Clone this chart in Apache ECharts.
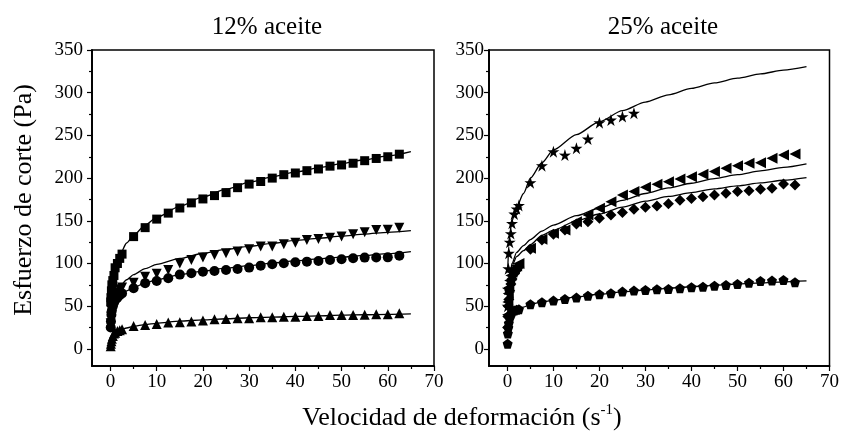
<!DOCTYPE html>
<html>
<head>
<meta charset="utf-8">
<script src="https://cdn.jsdelivr.net/npm/echarts@6/dist/echarts.min.js"></script>
<style>
  html, body { margin: 0; padding: 0; background: #fff; }
  #chart { width: 842px; height: 440px; }
</style>
</head>
<body>
<div id="chart"></div>
<script>
// shear rate (s^-1) of the measured points
const rate = [0.05, 0.1, 0.2, 0.3, 0.5, 0.75, 1, 1.5, 2, 2.5,
  5, 7.5, 10, 12.5, 15, 17.5, 20, 22.5, 25, 27.5, 30, 32.5, 35, 37.5,
  40, 42.5, 45, 47.5, 50, 52.5, 55, 57.5, 60, 62.5];
// shear rate of the fitted curves
const fitRate = [0.05, 0.3, 0.6, 1, 2, 3.5, 5, 7.5, 10, 15, 20, 25, 30, 35, 40, 45, 50, 55, 60, 65];

// 12% aceite
const square12 = [55, 60, 68, 75, 80, 86, 95, 100, 106, 111,
  131.5, 142, 152, 159, 165, 171, 175.6, 179.5, 183, 188.8, 193, 196, 200, 204,
  206, 208.7, 210.7, 214, 215.4, 217.4, 220.4, 223, 225, 228];
const downTri12 = [30, 38, 45, 50, 56, 60, 63, 66, 70, 72,
  77.6, 84.6, 88, 92.5, 100, 104, 107, 110, 112, 114, 116.7, 119.8, 120, 122.5,
  124.4, 127.6, 128.8, 130.3, 131.5, 134.3, 136.6, 139.3, 139.5, 142];
const circle12 = [25, 32, 40, 45, 50, 54, 57, 60, 63, 65,
  71, 77, 79.6, 82.7, 87, 88.6, 90.5, 91.3, 92.5, 93.6, 95.2, 97.5, 99.1, 100.3,
  101.5, 102.2, 103, 104.2, 105, 106.2, 106.9, 107, 107.2, 109.2];
const upTri12 = [3, 6, 9, 12, 15, 18, 19, 21, 22, 23,
  26.9, 28, 29.3, 30.8, 31.2, 32, 33.2, 34.7, 35, 35.8, 35.8, 37.1, 37.1, 37.8,
  37.8, 38.6, 38.6, 39.8, 39.8, 39.8, 40, 40.6, 40.6, 41.8];
const fitSquare12 = [50, 72, 82, 95, 110, 124, 133, 145, 154, 167, 178, 187, 195, 201.5, 207, 212, 217, 221.5, 226, 231];
const fitDownTri12 = [38, 52, 58, 64, 73, 81, 87, 94, 99, 106, 112, 116.5, 120, 123.5, 127, 129.5, 132, 134.5, 136.5, 138.5];
const fitCircle12 = [28, 45, 50, 55, 62, 68, 72, 77, 81, 87, 91, 94.5, 97.5, 100.5, 103, 105.5, 107.5, 109.5, 111.5, 114];
const fitUpTri12 = [8, 14, 17, 19.5, 22, 24.5, 26.5, 28.5, 30, 32.5, 34, 35.3, 36.5, 37.3, 38, 38.8, 39.5, 40, 40.5, 41];

// 25% aceite
const star25 = [50, 70, 94, 112, 125, 135, 147, 158, 164, 168,
  194.7, 214.6, 231, 227, 235, 245.8, 264.9, 268, 272, 276];
const leftTri25 = [40, 55, 65, 72, 80, 86, 90, 94, 97, 100,
  117.9, 128.4, 135.4, 139.3, 149, 156.9, 164.7, 172.4, 180.3, 184.2, 189.3, 192.8, 195.8, 199,
  201.7, 204.5, 207.6, 211.5, 214.6, 217.4, 218.1, 223.2, 227.1, 228.3];
const diamond25 = [25, 38, 50, 58, 68, 76, 82, 88, 92, 96,
  116.7, 127.6, 134.3, 139.3, 146.3, 149, 153, 156.9, 159.6, 163.5, 165.8, 167.4, 170, 174,
  176, 178.3, 180.3, 182.2, 184.2, 185.3, 187, 188.1, 193, 192];
const pentagon25 = [6, 18, 25, 30, 36, 40, 43, 45, 46, 46.5,
  52.3, 54.6, 56.6, 58.5, 60.1, 62.4, 64, 65.2, 67.1, 68.3, 69, 69.9, 70.2, 71,
  72.2, 72.9, 74.1, 74.9, 76.1, 77.6, 79.6, 80, 80.8, 78.1];
const fitStar25 = [90, 120, 138, 150, 166, 182, 200, 218, 233, 251, 266, 279, 289, 297.5, 305, 311.5, 317, 322, 326.5, 330.5];
const fitLeftTri25 = [55, 76, 88, 100, 113, 121, 128, 138, 145, 156, 165, 174, 182, 188.5, 194, 199.5, 204, 208.5, 212.5, 216.6];
const fitDiamond25 = [52, 74, 86, 97, 108, 115, 122, 133, 139, 150, 158, 166, 173, 178.5, 183, 187.5, 191, 194.5, 197.5, 200.5];
const fitPentagon25 = [15, 30, 37, 42, 46, 49, 52, 55, 57, 61, 64, 66.8, 69, 71, 72.8, 74.5, 76, 77.4, 78.6, 79.6];

// tick labels
const xTicks = [0, 10, 20, 30, 40, 50, 60, 70];
const xMinorTicks = [5, 15, 25, 35, 45, 55, 65];
const yTicks = [0, 50, 100, 150, 200, 250, 300, 350];
const yMinorTicks = [25, 75, 125, 175, 225, 275, 325];

const pair = (xs, ys) => ys.map((y, i) => [xs[i], y]);

const STAR = "path://M50 0 L61.2 34.6 L97.6 34.5 L68.1 55.9 L79.4 90.5 L50 69 L20.6 90.5 L31.9 55.9 L2.4 34.5 L38.8 34.6 Z";
const PENTA = "path://M50 0 L97.6 34.5 L79.4 90.5 L20.6 90.5 L2.4 34.5 Z";
const serif = "Liberation Serif";

const mychart = echarts.init(document.getElementById("chart"));

const makeX = (grid, minor) => ({
  type: "value",
  gridIndex: grid,
  position: "bottom",
  min: -4,
  max: 70,
  splitLine: { show: false },
  axisLine: { show: true, onZero: false, lineStyle: { color: "#000", width: 1.5 } },
  axisTick: {
    show: true,
    inside: false,
    length: minor ? 3 : 5,
    customValues: minor ? xMinorTicks : xTicks,
    lineStyle: { color: "#000", width: 1.2 },
  },
  axisLabel: {
    show: !minor,
    customValues: xTicks,
    color: "#000",
    fontFamily: serif,
    fontSize: 19,
    margin: 7,
  },
});
const makeY = (grid, minor, margin) => ({
  type: "value",
  gridIndex: grid,
  position: "left",
  min: -20,
  max: 350,
  splitLine: { show: false },
  axisLine: { show: true, onZero: false, lineStyle: { color: "#000", width: 1.5 } },
  axisTick: {
    show: true,
    inside: false,
    length: minor ? 3 : 5,
    customValues: minor ? yMinorTicks : yTicks,
    lineStyle: { color: "#000", width: 1.2 },
  },
  axisLabel: {
    show: !minor,
    customValues: yTicks,
    color: "#000",
    fontFamily: serif,
    fontSize: 19,
    margin: margin,
  },
});

const marks = (data, xi, symbol, size, rotate) => ({
  type: "scatter",
  xAxisIndex: xi,
  yAxisIndex: xi,
  data: data,
  symbol: symbol,
  symbolSize: size,
  symbolRotate: rotate || 0,
  itemStyle: { color: "#000", opacity: 1 },
  silent: true,
});
const fit = (data, xi) => ({
  type: "line",
  xAxisIndex: xi,
  yAxisIndex: xi,
  data: data,
  symbol: "none",
  smooth: 0.25,
  smoothMonotone: "x",
  lineStyle: { color: "#000", width: 1.3 },
  silent: true,
  z: 3,
});

const option = {
  animation: false,
  backgroundColor: "#fff",
  grid: [
    { left: 92, top: 50, width: 342, height: 316, show: true, borderColor: "#000", borderWidth: 1.5 },
    { left: 489, top: 50, width: 342, height: 316, show: true, borderColor: "#000", borderWidth: 1.5 },
  ],
  xAxis: [makeX(0, false), makeX(0, true), makeX(1, false), makeX(1, true)],
  yAxis: [makeY(0, false, 9), makeY(0, true, 9), makeY(1, false, 5), makeY(1, true, 5)],
  graphic: [
    { type: "text", x: 267, y: 27, style: { text: "12% aceite", font: "25px 'Liberation Serif'", fill: "#000", textAlign: "center", textVerticalAlign: "middle" } },
    { type: "text", x: 663, y: 27, style: { text: "25% aceite", font: "25px 'Liberation Serif'", fill: "#000", textAlign: "center", textVerticalAlign: "middle" } },
    { type: "text", x: 24, y: 200, rotation: Math.PI / 2, style: { text: "Esfuerzo de corte (Pa)", font: "26px 'Liberation Serif'", fill: "#000", textAlign: "center", textVerticalAlign: "middle" } },
    {
      type: "text", x: 462, y: 418,
      style: {
        text: "Velocidad de deformación (s{sup|-1})",
        font: "26px 'Liberation Serif'",
        fill: "#000",
        textAlign: "center",
        textVerticalAlign: "middle",
        rich: { sup: { fontSize: 15, fontFamily: serif, fill: "#000", padding: [0, 0, 16, 0] } },
      },
    },
  ],
  series: [
    marks(pair(rate, square12), 0, "rect", 9),
    marks(pair(rate, downTri12), 0, "triangle", 10, 180),
    marks(pair(rate, circle12), 0, "circle", 10),
    marks(pair(rate, upTri12), 0, "triangle", 10),
    fit(pair(fitRate, fitSquare12), 0),
    fit(pair(fitRate, fitDownTri12), 0),
    fit(pair(fitRate, fitCircle12), 0),
    fit(pair(fitRate, fitUpTri12), 0),
    marks(pair(rate, star25), 2, STAR, 12),
    marks(pair(rate, leftTri25), 2, "triangle", 11, 90),
    marks(pair(rate, diamond25), 2, "diamond", 11),
    marks(pair(rate, pentagon25), 2, PENTA, 10),
    fit(pair(fitRate, fitStar25), 2),
    fit(pair(fitRate, fitLeftTri25), 2),
    fit(pair(fitRate, fitDiamond25), 2),
    fit(pair(fitRate, fitPentagon25), 2),
  ],
};
mychart.setOption(option);
</script>
</body>
</html>
